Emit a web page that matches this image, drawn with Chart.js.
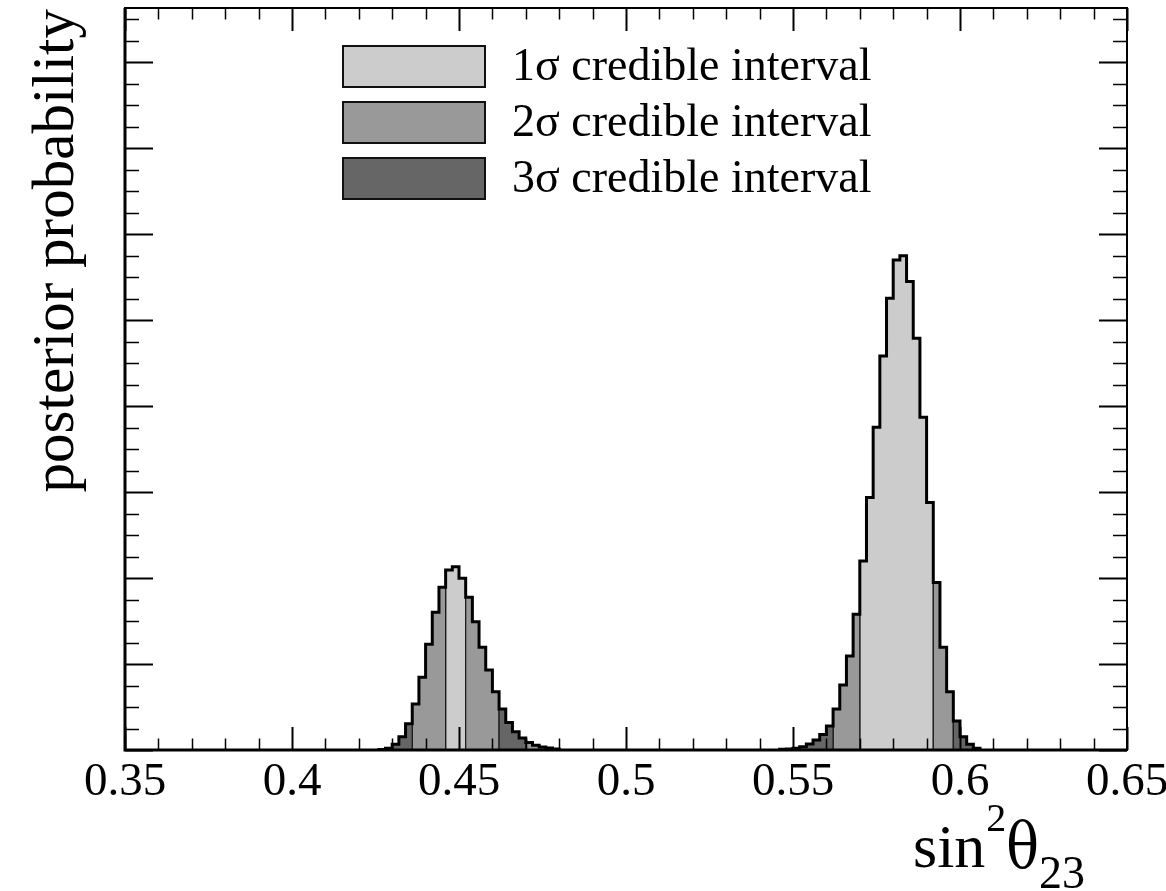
<!DOCTYPE html>
<html>
<head>
<meta charset="utf-8">
<script src="https://cdn.jsdelivr.net/npm/chart.js@4.4.1/dist/chart.umd.min.js"></script>
<style>
  html, body { margin: 0; padding: 0; background: #fff; }
  #wrap { width: 1166px; height: 891px; }
</style>
</head>
<body>
<div id="wrap"><canvas id="posterior" width="1166" height="891"></canvas></div>
<script>
// Posterior of sin^2(theta23), binned at 0.002
const binWidth = 0.002;

const lowerOctantStart = 0.426;
const lowerOctantBins = [
  0.06, 0.20, 0.66, 1.55, 3.06, 5.35, 8.45, 12.29, 16.01, 18.92,
  20.93, 21.31, 19.97, 17.76, 14.92, 11.94, 9.30, 6.78, 4.77, 3.20,
  2.13, 1.40, 0.87, 0.55, 0.35, 0.23, 0.12
];

const upperOctantStart = 0.546;
const upperOctantBins = [
  0.08, 0.12, 0.20, 0.38, 0.70, 1.16, 1.80, 2.79, 4.77, 7.56,
  10.93, 15.78, 21.98, 29.36, 37.52, 45.81, 52.52, 56.98, 57.48, 54.48,
  47.87, 38.69, 28.78, 19.48, 11.94, 6.78, 3.37, 1.55, 0.66, 0.20
];

// credible interval ranges [from, to]
const sigma1Ranges = [[0.446, 0.452], [0.570, 0.592]];
const sigma2Ranges = [[0.436, 0.446], [0.452, 0.462], [0.562, 0.570], [0.592, 0.598]];
const sigma3Ranges = [[0.428, 0.436], [0.462, 0.470], [0.552, 0.562], [0.598, 0.604]];
const tailRanges = [[0.426, 0.428], [0.470, 0.480], [0.546, 0.552], [0.604, 0.606]];

const legendLabels = ['1\u03c3 credible interval', '2\u03c3 credible interval', '3\u03c3 credible interval'];
const sigmaColors = ['#cccccc', '#999999', '#666666'];
const tailColor = '#999999';

const xTickLabels = ['0.35', '0.4', '0.45', '0.5', '0.55', '0.6', '0.65'];
const xMin = 0.35, xMax = 0.65;
const yMax = 86.28;

const peaks = [
  { start: lowerOctantStart, bins: lowerOctantBins },
  { start: upperOctantStart, bins: upperOctantBins }
];

const edge = (start, i) => +(start + i * binWidth).toFixed(3);

// step outline points for bins in [from, to)
function stepPoints(from, to) {
  const peak = peaks.find(p => from >= p.start - 1e-9 && to <= edge(p.start, p.bins.length) + 1e-9);
  const i0 = Math.round((from - peak.start) / binWidth);
  const i1 = Math.round((to - peak.start) / binWidth);
  const pts = [{ x: edge(peak.start, i0), y: 0 }];
  for (let i = i0; i < i1; i++) pts.push({ x: edge(peak.start, i), y: peak.bins[i] });
  pts.push({ x: edge(peak.start, i1), y: peak.bins[i1 - 1] });
  pts.push({ x: edge(peak.start, i1), y: 0 });
  return pts;
}

function region(range, color, label) {
  return {
    label: label,
    data: stepPoints(range[0], range[1]),
    stepped: 'before',
    fill: 'origin',
    backgroundColor: color,
    borderColor: '#1a1a1a',
    borderWidth: 1.2,
    pointRadius: 0,
    order: 1
  };
}

const datasets = [];
tailRanges.forEach(r => datasets.push(region(r, tailColor, 'tail')));
sigma3Ranges.forEach(r => datasets.push(region(r, sigmaColors[2], legendLabels[2])));
sigma2Ranges.forEach(r => datasets.push(region(r, sigmaColors[1], legendLabels[1])));
sigma1Ranges.forEach(r => datasets.push(region(r, sigmaColors[0], legendLabels[0])));
peaks.forEach(p => {
  datasets.push({
    label: 'posterior',
    data: stepPoints(p.start, edge(p.start, p.bins.length)),
    stepped: 'before',
    fill: false,
    borderColor: '#000',
    borderWidth: 3,
    pointRadius: 0,
    order: 0
  });
});

// ROOT-style frame, inward ticks, labels, legend and titles
const rootFrame = {
  id: 'rootFrame',
  afterDatasetsDraw(chart) {
    const ctx = chart.ctx;
    const a = chart.chartArea;
    const xs = chart.scales.x, ys = chart.scales.y;
    ctx.save();
    ctx.strokeStyle = '#000';
    ctx.fillStyle = '#000';

    // x ticks, bottom and top
    for (let k = 0; k <= 30; k++) {
      const v = xMin + k * 0.01;
      const px = Math.round(xs.getPixelForValue(v)) + 0.5;
      const major = k % 5 === 0;
      const len = major ? 23 : 11.5;
      ctx.lineWidth = major ? 2 : 1.5;
      ctx.beginPath();
      ctx.moveTo(px, a.bottom); ctx.lineTo(px, a.bottom - len);
      ctx.moveTo(px, a.top); ctx.lineTo(px, a.top + len);
      ctx.stroke();
    }
    // y ticks, left and right
    for (let k = 0; k * 2.5 <= yMax; k++) {
      const v = k * 2.5;
      const py = Math.round(ys.getPixelForValue(v)) + 0.5;
      const major = k % 4 === 0;
      const len = major ? 28 : 14;
      ctx.lineWidth = major ? 2 : 1.5;
      ctx.beginPath();
      ctx.moveTo(a.left, py); ctx.lineTo(a.left + len, py);
      ctx.moveTo(a.right, py); ctx.lineTo(a.right - len, py);
      ctx.stroke();
    }

    // frame
    ctx.lineWidth = 2;
    ctx.strokeRect(a.left, a.top, a.right - a.left, a.bottom - a.top);
    ctx.lineWidth = 3;
    ctx.beginPath();
    ctx.moveTo(a.left, a.top); ctx.lineTo(a.left, a.bottom); ctx.lineTo(a.right, a.bottom);
    ctx.stroke();

    // x tick labels
    ctx.font = '47px "Liberation Serif", "DejaVu Serif", serif';
    ctx.textAlign = 'center';
    ctx.textBaseline = 'alphabetic';
    xTickLabels.forEach(t => {
      ctx.fillText(t, xs.getPixelForValue(parseFloat(t)), 795);
    });

    // x title: sin^2 theta_23
    ctx.textAlign = 'left';
    let x = 913;
    ctx.font = '62px "Liberation Serif", serif';
    ctx.fillText('sin', x, 867);
    x += ctx.measureText('sin').width + 1;
    ctx.font = '40px "Liberation Serif", serif';
    ctx.fillText('2', x, 831);
    x += ctx.measureText('2').width;
    ctx.font = '64px "DejaVu Serif", serif';
    ctx.save();
    ctx.scale(0.85, 1);
    ctx.fillText('\u03b8', x / 0.85, 867);
    ctx.restore();
    x += ctx.measureText('\u03b8').width * 0.85;
    ctx.font = '46px "Liberation Serif", serif';
    ctx.fillText('23', x, 888);

    // y title
    ctx.save();
    ctx.translate(73, 9);
    ctx.rotate(-Math.PI / 2);
    ctx.textAlign = 'right';
    ctx.font = '59px "Liberation Serif", serif';
    ctx.fillText('posterior probability', 0, 0);
    ctx.restore();

    // legend
    const boxTops = [46, 102, 158];
    ctx.font = '46px "Liberation Serif", serif';
    ctx.textAlign = 'left';
    legendLabels.forEach((lab, i) => {
      const top = boxTops[i];
      ctx.fillStyle = sigmaColors[i];
      ctx.fillRect(343, top, 142, 41);
      ctx.strokeStyle = '#111';
      ctx.lineWidth = 2;
      ctx.strokeRect(343, top, 142, 41);
      ctx.fillStyle = '#000';
      ctx.fillText(lab, 512, top + 34);
    });
    ctx.restore();
  }
};

new Chart(document.getElementById('posterior'), {
  type: 'line',
  data: { datasets: datasets },
  options: {
    responsive: false,
    animation: false,
    layout: { padding: { left: 125, top: 8, right: 39, bottom: 141 } },
    scales: {
      x: { type: 'linear', min: xMin, max: xMax, display: false },
      y: { min: 0, max: yMax, display: false }
    },
    elements: { line: { tension: 0 }, point: { radius: 0 } },
    plugins: { legend: { display: false }, tooltip: { enabled: false } }
  },
  plugins: [rootFrame]
});
</script>
</body>
</html>
